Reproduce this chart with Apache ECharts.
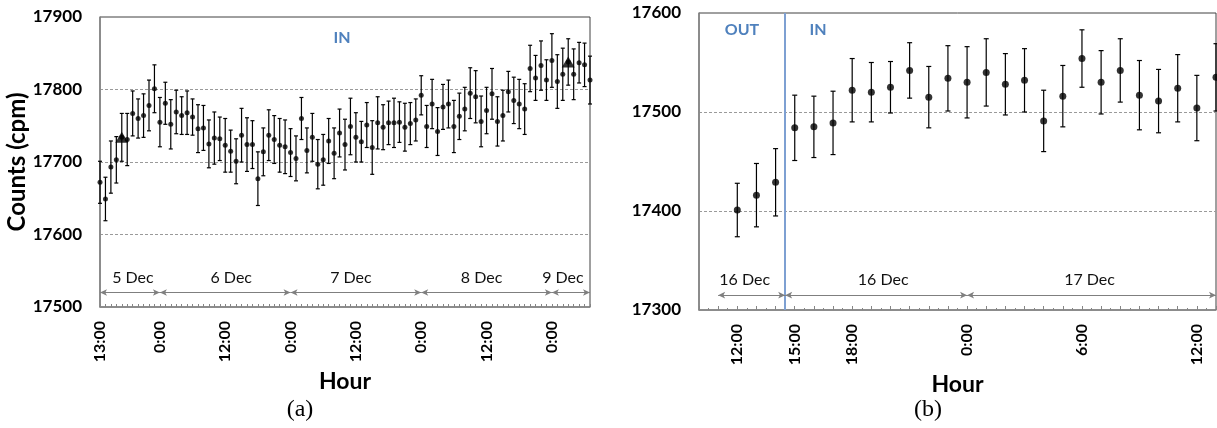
<!DOCTYPE html>
<html>
<head>
<meta charset="utf-8">
<script src="https://cdn.jsdelivr.net/npm/echarts@6/dist/echarts.min.js"></script>
<style>
  html, body { margin: 0; padding: 0; background: #fff; }
  #chart { width: 1217px; height: 428px; }
</style>
</head>
<body>
<div id="chart"></div>
<script>
// panel (a): hourly counts, first point 13:00 on 5 Dec
const countsA = [
  17672, 17649, 17693, 17703, 17734, 17731, 17767, 17760, 17764, 17778,
  17801, 17755, 17781, 17752, 17769, 17764, 17768, 17762, 17746, 17747,
  17725, 17733, 17732, 17723, 17715, 17701, 17737, 17724, 17724, 17677,
  17714, 17737, 17731, 17723, 17721, 17713, 17705, 17760, 17716, 17734,
  17697, 17703, 17729, 17712, 17740, 17724, 17749, 17734, 17728, 17751,
  17720, 17754, 17748, 17754, 17754, 17755, 17748, 17753, 17758, 17792,
  17749, 17780, 17742, 17776, 17780, 17749, 17763, 17773, 17795, 17790,
  17756, 17771, 17794, 17756, 17764, 17797, 17785, 17780, 17773, 17829,
  17816, 17833, 17813, 17840, 17811, 17821, 17838, 17821, 17837, 17834,
  17813
];
const errA = [
  29, 30, 36, 32, 33, 36, 31, 27, 30, 35,
  33, 34, 29, 34, 30, 26, 30, 25, 33, 31,
  33, 36, 30, 37, 29, 31, 37, 37, 33, 37,
  33, 35, 33, 37, 37, 33, 31, 29, 31, 33,
  34, 35, 31, 35, 33, 35, 39, 34, 28, 31,
  37, 36, 31, 30, 34, 28, 33, 29, 29, 27,
  29, 34, 33, 31, 33, 36, 32, 30, 35, 36,
  35, 32, 35, 34, 35, 28, 32, 34, 35, 32,
  31, 34, 28, 37, 37, 36, 32, 35, 28, 30,
  33
];
const markedA = [4, 86];   // hours drawn with a triangle
const xTickPosA = [0, 11, 23, 35, 47, 59, 71, 83];
const xTickLabA = ['13:00', '0:00', '12:00', '0:00', '12:00', '0:00', '12:00', '0:00'];
const dayEdgesA = [0, 11, 35, 59, 83, 90];
const dayNamesA = ['5 Dec', '6 Dec', '7 Dec', '8 Dec', '9 Dec'];

// panel (b): hourly counts, first point 12:00 on 16 Dec
const countsB = [
  17401, 17416, 17429, 17484, 17485, 17489, 17522, 17520, 17525, 17542,
  17515, 17534, 17530, 17540, 17528, 17532, 17491, 17516, 17554, 17530,
  17542, 17517, 17511, 17524, 17504, 17535
];
const errB = [
  27, 32, 34, 33, 31, 32, 32, 30, 26, 28,
  31, 33, 36, 34, 31, 32, 31, 31, 29, 32,
  32, 35, 32, 34, 33, 34
];
const xTickPosB = [0, 3, 6, 12, 18, 24];
const xTickLabB = ['12:00', '15:00', '18:00', '0:00', '6:00', '12:00'];
const dayEdgesB = [-1, 2.5, 12, 25];
const dayNamesB = ['16 Dec', '16 Dec', '17 Dec'];
const moveInB = 2.5;   // detector moved in at 14:30

// small nudges of the day captions (px), as placed in the original figure
const dayShiftA = [3, 6, -5, -5, -8];
const dayShiftB = [-7, 7, -2];

const FONT = 'Lato, "Liberation Sans", sans-serif';
const AXIS_GREY = '#868686';
const BLUE = '#4f81bd';

const chart = echarts.init(document.getElementById('chart'));

const errorBars = (idx, counts, err, cap) => ({
  type: 'custom',
  xAxisIndex: idx,
  yAxisIndex: idx,
  silent: true,
  z: 2,
  data: counts.map((v, i) => [i, v - err[i], v + err[i]]),
  encode: { x: 0, y: [1, 2] },
  renderItem: function (params, api) {
    const x = api.value(0);
    const lo = api.coord([x, api.value(1)]);
    const hi = api.coord([x, api.value(2)]);
    const st = { stroke: '#000', lineWidth: 1.2 };
    return {
      type: 'group',
      children: [
        { type: 'line', shape: { x1: lo[0], y1: lo[1], x2: hi[0], y2: hi[1] }, style: st },
        { type: 'line', shape: { x1: lo[0] - cap, y1: lo[1], x2: lo[0] + cap, y2: lo[1] }, style: st },
        { type: 'line', shape: { x1: hi[0] - cap, y1: hi[1], x2: hi[0] + cap, y2: hi[1] }, style: st }
      ]
    };
  }
});

const daySpans = (edges, names, shifts, yVal) => ({
  silent: true,
  symbol: ['arrow', 'arrow'],
  symbolSize: [5, 7],
  lineStyle: { color: '#7f7f7f', width: 1, type: 'solid' },
  label: {
    show: true, position: 'middle', formatter: '{b}', distance: 7,
    color: '#111', fontFamily: FONT, fontSize: 16
  },
  emphasis: { disabled: true },
  data: names.map((n, i) => [
    { name: n, coord: [edges[i], yVal], label: { offset: [shifts[i], 0] } },
    { coord: [edges[i + 1], yVal] }
  ])
});

const xAxisBase = (idx, min, max, pos, labs, minor) => ({
  gridIndex: idx,
  type: 'value',
  min: min,
  max: max,
  interval: 1,
  axisLine: { show: true, onZero: false, lineStyle: { color: AXIS_GREY, width: 1.5 } },
  axisTick: { show: true, inside: true, length: minor ? 4 : 3, lineStyle: { color: AXIS_GREY } },
  minorTick: { show: minor, splitNumber: 2, length: 2, lineStyle: { color: AXIS_GREY } },
  axisLabel: {
    customValues: pos,
    formatter: v => labs[pos.indexOf(v)],
    rotate: 90,
    margin: 14,
    color: '#000',
    fontFamily: FONT,
    fontWeight: 'bold',
    fontSize: 16
  },
  splitLine: { show: false },
  name: 'Hour',
  nameLocation: 'middle',
  nameGap: 58,
  nameTextStyle: { color: '#000', fontFamily: FONT, fontWeight: 'bold', fontSize: 23 }
});

const yAxisBase = (idx, min, max) => ({
  gridIndex: idx,
  type: 'value',
  min: min,
  max: max,
  interval: 100,
  axisLine: { show: true, onZero: false, lineStyle: { color: AXIS_GREY, width: 1.5 } },
  axisTick: { show: false },
  axisLabel: {
    margin: 18, color: '#000', fontFamily: FONT, fontWeight: 'bold', fontSize: 17,
    formatter: v => String(v)
  },
  splitLine: {
    show: true, showMinLine: false, showMaxLine: false,
    lineStyle: { color: '#9a9a9a', type: [3, 2], width: 1 }
  }
});

const option = {
  animation: false,
  backgroundColor: '#fff',
  grid: [
    { left: 100, top: 17, width: 490, height: 290, show: true, borderColor: '#404040', borderWidth: 1 },
    { left: 699, top: 13, width: 517, height: 297, show: true, borderColor: '#404040', borderWidth: 1 }
  ],
  xAxis: [
    xAxisBase(0, 0, 90, xTickPosA, xTickLabA, false),
    xAxisBase(1, -2, 25, xTickPosB, xTickLabB, true)
  ],
  yAxis: [
    Object.assign(yAxisBase(0, 17500, 17900), {
      name: 'Counts (cpm)',
      nameLocation: 'middle',
      nameGap: 66,
      nameTextStyle: { color: '#000', fontFamily: FONT, fontWeight: 'bold', fontSize: 24 }
    }),
    yAxisBase(1, 17300, 17600)
  ],
  series: [
    errorBars(0, countsA, errA, 2),
    {
      type: 'scatter',
      xAxisIndex: 0,
      yAxisIndex: 0,
      silent: true,
      z: 3,
      symbolSize: 5,
      itemStyle: { color: '#000' },
      data: countsA.map((v, i) => [i, v]),
      markLine: daySpans(dayEdgesA, dayNamesA, dayShiftA, 17520)
    },
    {
      type: 'scatter',
      xAxisIndex: 0,
      yAxisIndex: 0,
      silent: true,
      z: 4,
      symbol: 'triangle',
      symbolSize: [13, 11],
      itemStyle: { color: '#000' },
      data: markedA.map(i => [i, countsA[i]])
    },
    Object.assign(errorBars(1, countsB, errB, 2.5), {
      markLine: {
        silent: true,
        symbol: 'none',
        label: { show: false },
        lineStyle: { color: '#7ea0d2', width: 2, type: 'solid' },
        data: [{ xAxis: moveInB }]
      }
    }),
    {
      type: 'scatter',
      xAxisIndex: 1,
      yAxisIndex: 1,
      silent: true,
      z: 3,
      symbolSize: 7,
      itemStyle: { color: '#000' },
      data: countsB.map((v, i) => [i, v]),
      markLine: daySpans(dayEdgesB, dayNamesB, dayShiftB, 17315)
    }
  ],
  graphic: [
    { type: 'text', x: 342, y: 38, style: { text: 'IN', fill: BLUE, font: 'bold 16px ' + FONT, align: 'center', verticalAlign: 'middle' } },
    { type: 'text', x: 742, y: 30, style: { text: 'OUT', fill: BLUE, font: 'bold 16px ' + FONT, align: 'center', verticalAlign: 'middle' } },
    { type: 'text', x: 818, y: 30, style: { text: 'IN', fill: BLUE, font: 'bold 16px ' + FONT, align: 'center', verticalAlign: 'middle' } },
    { type: 'text', x: 300, y: 410, style: { text: '(a)', fill: '#000', font: '24px "Liberation Serif", serif', align: 'center', verticalAlign: 'middle' } },
    { type: 'text', x: 928, y: 410, style: { text: '(b)', fill: '#000', font: '24px "Liberation Serif", serif', align: 'center', verticalAlign: 'middle' } }
  ]
};

chart.setOption(option);
</script>
</body>
</html>
